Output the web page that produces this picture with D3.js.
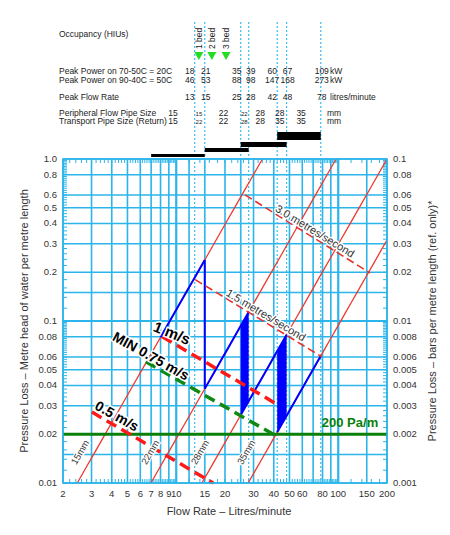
<!DOCTYPE html>
<html><head><meta charset="utf-8">
<script src="https://cdn.jsdelivr.net/npm/d3@7"></script>
<style>body{margin:0;background:#fff}text{font-family:"Liberation Sans",Arial,sans-serif}</style>
</head><body><svg id="svg" width="450" height="535"></svg>
<script>
// data
const xTicks = [2,3,4,5,6,7,8,9,10,15,20,30,40,50,60,80,100,150,200];
const xGrid = [2,3,4,5,6,7,8,9,10,12,15,20,25,30,40,50,60,70,80,90,100,150,200];
const yTicks = [1.0,0.8,0.6,0.5,0.4,0.3,0.2,0.1,0.08,0.06,0.05,0.04,0.03,0.02,0.01];
const yGrid = [1.0,0.8,0.6,0.5,0.4,0.3,0.2,0.15,0.1,0.08,0.06,0.05,0.04,0.03,0.02,0.015,0.01];
const pipes = ["15mm","22mm","28mm","35mm"];
const pipeStart = [2.45,6.98,14.4,27.8];   // flow where each pipe line hits 0.01
const pipeExp = 1.75;
const flows = [13,15,25,28,42,48,78];
const power20 = ["18","21","35","39","60","67","109"];
const power50 = ["46","53","88","98","147","168","273"];
const periph = ["15","22","22","28","28","35"];
const transport = ["22","22","28","28","35","35"];
const beds = ["1 bed","2 bed","3 bed"];
const bars = [[7,15],[15,28],[25,48],[42,78]];
// blue operating segments: pipe index, from flow, to flow
const blueRuns = [[0,8,15],[1,15,28],[2,25,48],[3,42,78]];
const blueFills = [[1,2,25,28],[2,3,42,48]];
const blueDrops = [[15,0,1]];
const velLines = [
  {name:"3.0 metres/second", x1:26.6,y1:0.60,x2:157,y2:0.198,thick:false,col:"#e8312a"},
  {name:"1.5 metres/second", x1:13.1,y1:0.18,x2:79.4,y2:0.06,thick:false,col:"#e8312a"},
  {name:"1 m/s", x1:8.2,y1:0.08,x2:41.9,y2:0.0306,thick:true,col:"#ff1a1a"},
  {name:"MIN 0.75 m/s", x1:6.5,y1:0.056,x2:40.7,y2:0.0197,thick:true,col:"#118811"},
  {name:"0.5 m/s", x1:3.02,y1:0.0274,x2:16.9,y2:0.01,thick:true,col:"#ff1a1a"}
];

const svg = d3.select("#svg");
const x = d3.scaleLog().domain([2,200]).range([63,387]);
const y = d3.scaleLog().domain([0.01,1]).range([483,159]);
const pipeY = (i,q) => 0.01*Math.pow(q/pipeStart[i], pipeExp);
const gridCol = "#2bb5ea";

// grid
const g = svg.append("g");
g.selectAll(".vx").data(xGrid).enter().append("line")
  .attr("x1",d=>x(d)).attr("x2",d=>x(d)).attr("y1",159).attr("y2",483)
  .attr("stroke",gridCol).attr("stroke-width",d=>[10,100].includes(d)?2.2:1.6);
g.selectAll(".hy").data(yGrid).enter().append("line")
  .attr("y1",d=>y(d)).attr("y2",d=>y(d)).attr("x1",63).attr("x2",387)
  .attr("stroke",gridCol).attr("stroke-width",d=>[0.1].includes(d)?2.2:1.6);
// minor ticks along edges
const minor = [];
for (let dec of [1,10,100]) for (let k=10;k<100;k+=2) { const v=dec*k/10; if (v>=2&&v<=200) minor.push(v); }
g.selectAll(".mt").data(minor).enter().append("path")
  .attr("d",d=>`M${x(d)},159v4M${x(d)},483v-4`).attr("stroke",gridCol).attr("stroke-width",1);
const minorY = [];
for (let dec of [0.01,0.1]) for (let k=10;k<100;k+=2) minorY.push(dec*k/10);
g.selectAll(".my").data(minorY).enter().append("path")
  .attr("d",d=>`M63,${y(d)}h4M387,${y(d)}h-4`).attr("stroke",gridCol).attr("stroke-width",1);

// dotted flow lines
svg.selectAll(".fl").data(flows).enter().append("line")
  .attr("x1",d=>x(d)).attr("x2",d=>x(d)).attr("y1",22).attr("y2",483)
  .attr("stroke","#3bbcef").attr("stroke-width",1.2).attr("stroke-dasharray","2,2");

// pipe lines
const line = d3.line().x(d=>x(d[0])).y(d=>y(d[1]));
pipes.forEach((p,i) => {
  const qTop = Math.min(200, pipeStart[i]*Math.pow(100,1/pipeExp));
  const pts = d3.range(0,21).map(k => { const q = pipeStart[i]*Math.pow(qTop/pipeStart[i],k/20); return [q,pipeY(i,q)]; });
  svg.append("path").attr("d",line(pts)).attr("fill","none").attr("stroke","#ee3a30").attr("stroke-width",1.3);
});

// blue ranges
blueFills.forEach(([a,b,q1,q2]) => {
  const top = d3.range(0,11).map(k=>{const q=q1*Math.pow(q2/q1,k/10);return [q,pipeY(a,q)];});
  const bot = d3.range(10,-1,-1).map(k=>{const q=q1*Math.pow(q2/q1,k/10);return [q,pipeY(b,q)];});
  svg.append("path").attr("d",line(top.concat(bot))+"Z").attr("fill","#0000ff");
});
blueRuns.forEach(([i,q1,q2]) => {
  const pts = d3.range(0,11).map(k=>{const q=q1*Math.pow(q2/q1,k/10);return [q,pipeY(i,q)];});
  svg.append("path").attr("d",line(pts)).attr("fill","none").attr("stroke","#0000ff").attr("stroke-width",2);
});
blueDrops.forEach(([q,a,b]) => {
  svg.append("line").attr("x1",x(q)).attr("x2",x(q)).attr("y1",y(pipeY(a,q))).attr("y2",y(pipeY(b,q)))
    .attr("stroke","#0000ff").attr("stroke-width",2);
});

// green 200 Pa/m
svg.append("line").attr("x1",63).attr("x2",387).attr("y1",y(0.02)).attr("y2",y(0.02))
  .attr("stroke","#0a800a").attr("stroke-width",3);
svg.append("text").attr("x",350).attr("y",y(0.02)-7).attr("text-anchor","middle")
  .attr("font-size",13).attr("font-weight","bold").attr("fill","#0a800a").text("200 Pa/m");

// velocity lines
velLines.forEach(v => {
  svg.append("line").attr("x1",x(v.x1)).attr("y1",y(v.y1)).attr("x2",x(v.x2)).attr("y2",y(v.y2))
    .attr("stroke",v.col).attr("stroke-width",v.thick?3.5:1.6)
    .attr("stroke-dasharray",v.thick?"11,6":"8,4");
});
const velLabels = [
  {t:"3.0 metres/second",cx:315,cy:231,a:31.5,fs:11,b:false},
  {t:"1.5 metres/second",cx:266,cy:315,a:31,fs:11,b:false},
  {t:"1 m/s",cx:172,cy:333,a:22,fs:15,b:true},
  {t:"MIN 0.75 m/s",cx:151,cy:356,a:29,fs:14,b:true},
  {t:"0.5 m/s",cx:117,cy:416,a:29,fs:14,b:true}
];
velLabels.forEach(l => {
  svg.append("text").attr("transform",`translate(${l.cx},${l.cy}) rotate(${l.a})`)
    .attr("text-anchor","middle").attr("dy","0.35em").attr("font-size",l.fs)
    .attr("font-weight",l.b?"bold":"normal").attr("fill",l.b?"#000":"#333")
    .attr("stroke","#fff").attr("stroke-width",3).attr("paint-order","stroke").text(l.t);
});
// pipe labels
const pipeLabelQ = [2.55,6.9,14,27];
pipes.forEach((p,i) => {
  svg.append("text").attr("transform",`translate(${x(pipeLabelQ[i])},${y(0.0155)}) rotate(-60)`)
    .attr("text-anchor","middle").attr("dy","0.35em").attr("font-size",9.5).attr("fill","#333")
    .attr("stroke","#fff").attr("stroke-width",2.5).attr("paint-order","stroke").text(p);
});

// frame and axes
svg.append("rect").attr("x",63).attr("y",159).attr("width",324).attr("height",324)
  .attr("fill","none").attr("stroke",gridCol).attr("stroke-width",1.5);
svg.selectAll(".xl").data(xTicks).enter().append("text")
  .attr("x",d=>x(d)).attr("y",497).attr("text-anchor","middle").attr("font-size",9.5).attr("fill","#333").text(d=>d);
svg.selectAll(".yl").data(yTicks).enter().append("text")
  .attr("x",57).attr("y",d=>y(d)+3).attr("text-anchor","end").attr("font-size",9.5).attr("fill","#333")
  .text(d=>d===1?"1.0":d);
svg.selectAll(".yr").data(yTicks).enter().append("text")
  .attr("x",393).attr("y",d=>y(d)+3).attr("font-size",9.5).attr("fill","#333")
  .text(d=>+(d/10).toFixed(4));
svg.append("text").attr("x",229).attr("y",515).attr("text-anchor","middle").attr("font-size",11).attr("fill","#333")
  .text("Flow Rate – Litres/minute");
svg.append("text").attr("transform","translate(28,321) rotate(-90)").attr("text-anchor","middle")
  .attr("font-size",11).attr("fill","#333").text("Pressure Loss – Metre head of water per metre length");
svg.append("text").attr("transform","translate(436,321) rotate(-90)").attr("text-anchor","middle")
  .attr("font-size",11).attr("fill","#333").text("Pressure Loss – bars per metre length  (ref. only)*");

// table
const tbl = svg.append("g").attr("font-size",8.5).attr("fill","#222");
[["Occupancy (HIUs)",37],["Peak Power on  70-50C = 20C",74],["Peak Power on  90-40C = 50C",83],
 ["Peak Flow Rate",100],["Peripheral Flow Pipe Size",116],["Transport Pipe Size (Return)",124]]
  .forEach(([t,yy]) => tbl.append("text").attr("x",59).attr("y",yy).text(t));
const colX = flows.map(f=>x(f));
const colDx = [-5,1,-4,2,-5,1,1];
tbl.selectAll(".p20").data(power20).enter().append("text").attr("x",(d,i)=>colX[i]+colDx[i]).attr("y",74).attr("text-anchor","middle").text(d=>d);
tbl.selectAll(".p50").data(power50).enter().append("text").attr("x",(d,i)=>colX[i]+colDx[i]).attr("y",83).attr("text-anchor","middle").text(d=>d);
tbl.selectAll(".fr").data(flows).enter().append("text").attr("x",(d,i)=>colX[i]+colDx[i]).attr("y",100).attr("text-anchor","middle").text(d=>d);
tbl.append("text").attr("x",330).attr("y",74).text("kW");
tbl.append("text").attr("x",330).attr("y",83).text("kW");
tbl.append("text").attr("x",330).attr("y",100).text("litres/minute");
tbl.append("text").attr("x",173).attr("y",116).attr("text-anchor","middle").text("15");
tbl.append("text").attr("x",173).attr("y",124).attr("text-anchor","middle").text("15");
const pipeColQ = [13.8,19.6,26.3,33,43.5,59];
const small = [true,false,true,false,false,false];
tbl.selectAll(".pp").data(periph).enter().append("text").attr("x",(d,i)=>x(pipeColQ[i])).attr("y",116)
  .attr("text-anchor","middle").attr("font-size",(d,i)=>small[i]?6:8.5).text(d=>d);
tbl.selectAll(".tp").data(transport).enter().append("text").attr("x",(d,i)=>x(pipeColQ[i])).attr("y",124)
  .attr("text-anchor","middle").attr("font-size",(d,i)=>small[i]?6:8.5).text(d=>d);
tbl.append("text").attr("x",327).attr("y",116).text("mm");
tbl.append("text").attr("x",327).attr("y",124).text("mm");
const bedQ = [13.8,16.6,20.3];
beds.forEach((b,i) => {
  tbl.append("text").attr("transform",`translate(${x(bedQ[i])+3},49) rotate(-90)`).text(b);
  svg.append("path").attr("d",`M${x(bedQ[i])-4.5},52h9l-4.5,8Z`).attr("fill","#22dd22");
});
// black bars
const barY = [154,148,142,132], barH = [3,4,5,8];
bars.forEach(([a,b],i) => svg.append("rect").attr("x",x(a)).attr("width",x(b)-x(a))
  .attr("y",barY[i]).attr("height",barH[i]).attr("fill","#000"));
</script></body></html>
